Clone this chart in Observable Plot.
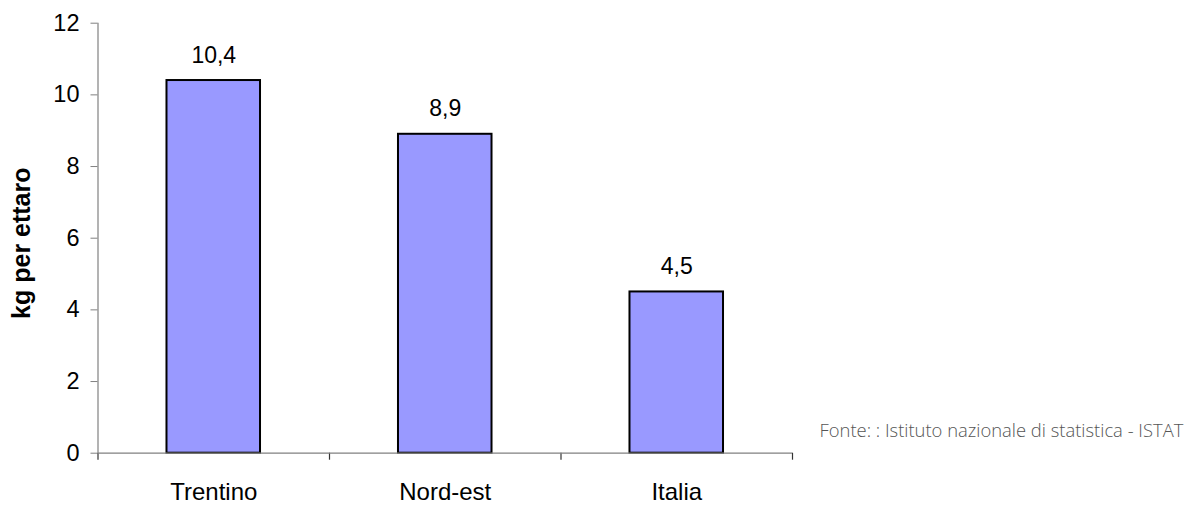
<!DOCTYPE html>
<html>
<head>
<meta charset="utf-8">
<script src="https://cdn.jsdelivr.net/npm/d3@7"></script>
<script src="https://cdn.jsdelivr.net/npm/@observablehq/plot@0.6"></script>
<style>
  html, body { margin: 0; padding: 0; background: #fff; }
  #chart { width: 1192px; height: 505px; }
</style>
</head>
<body>
<div id="chart"></div>
<script>
// Pesticide use, kg per hectare
const categories = ["Trentino", "Nord-est", "Italia"];
const values = [10.4, 8.9, 4.5];
const valueLabels = ["10,4", "8,9", "4,5"];
const yTicks = [0, 2, 4, 6, 8, 10, 12];
const yTitle = "kg per ettaro";
const source = "Fonte: : Istituto nazionale di statistica - ISTAT";

// Each category occupies one unit slot on a linear x scale; bars fill the middle of their slot
const barPad = 0.298;
const data = categories.map((name, i) => ({name, i, value: values[i], label: valueLabels[i]}));
const boundaries = d3.range(categories.length + 1);

const font = "Liberation Sans, Arial, sans-serif";

const chart = Plot.plot({
  width: 1192,
  height: 505,
  marginLeft: 97.5,
  marginRight: 400,
  marginTop: 22.7,
  marginBottom: 52.3,
  style: {fontFamily: font, background: "#fff", overflow: "visible"},
  x: {type: "linear", domain: [0, categories.length], axis: null},
  y: {type: "linear", domain: [0, 12], axis: null},
  marks: [
    // y axis: ticks and labels
    Plot.axisY({
      ticks: yTicks,
      tickSize: 7,
      tickPadding: 11.5,
      stroke: "#808080",
      fill: "#000",
      fontSize: 23.5,
      label: null,
      tickFormat: d => String(d)
    }),
    // x axis: short ticks hanging below the baseline at slot boundaries
    Plot.ruleX(boundaries, {x: d => d, y1: 0, y2: 0, insetBottom: -7, stroke: "#333", strokeWidth: 1.2}),
    // bars
    Plot.rectY(data, {
      x1: d => d.i + barPad,
      x2: d => d.i + 1 - barPad,
      y: "value",
      fill: "#9999ff",
      stroke: "#000",
      strokeWidth: 2
    }),
    // axis lines
    Plot.ruleX([0], {stroke: "#808080", strokeWidth: 1.2}),
    Plot.ruleY([0], {stroke: "#808080", strokeWidth: 1.2}),
    // value labels
    Plot.text(data, {
      x: d => d.i + 0.5,
      y: "value",
      text: "label",
      dy: -18,
      lineAnchor: "bottom",
      fontSize: 23,
      fill: "#000"
    }),
    // category labels
    Plot.text(data, {
      x: d => d.i + 0.5,
      y: () => 0,
      text: "name",
      dy: 47,
      lineAnchor: "bottom",
      fontSize: 24,
      fill: "#000"
    }),
    // y axis title
    Plot.text([yTitle], {
      frameAnchor: "left",
      textAnchor: "middle",
      dx: -76.5,
      dy: 5,
      rotate: -90,
      fontSize: 25,
      fontWeight: "bold",
      fill: "#000"
    }),
    // source note
    Plot.text([source], {
      frameAnchor: "bottom-right",
      dx: 27,
      dy: -16,
      textAnchor: "start",
      lineAnchor: "bottom",
      fontFamily: "Open Sans, sans-serif",
      fontWeight: 300,
      fontSize: 18.4,
      fill: "#555"
    })
  ]
});

document.getElementById("chart").appendChild(chart);
</script>
</body>
</html>
